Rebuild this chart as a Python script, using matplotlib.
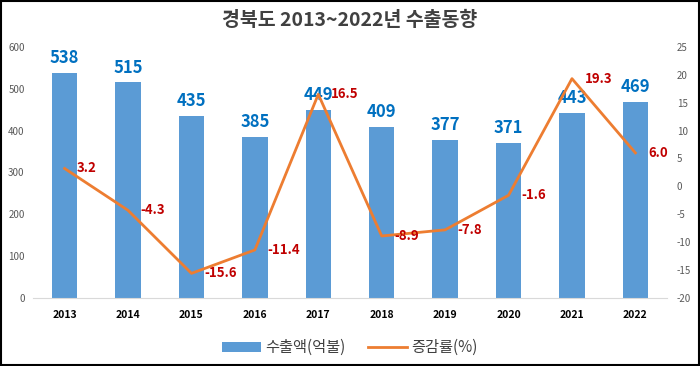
import matplotlib.pyplot as plt
from matplotlib.patches import Rectangle

plt.rcParams['font.family'] = ['Noto Sans CJK KR', 'DejaVu Sans']
plt.rcParams['axes.unicode_minus'] = False

years = ['2013', '2014', '2015', '2016', '2017', '2018', '2019', '2020', '2021', '2022']
exports = [538, 515, 435, 385, 449, 409, 377, 371, 443, 469]
growth = [3.2, -4.3, -15.6, -11.4, 16.5, -8.9, -7.8, -1.6, 19.3, 6.0]

fig = plt.figure(figsize=(7, 3.66), dpi=100)
ax = fig.add_axes([0.047, 0.186, 0.906, 0.686])
x = range(len(years))

ax.bar(x, exports, width=0.4, color='#5B9BD5', label='수출액(억불)', zorder=1)
for i, v in enumerate(exports):
    ax.text(i, v + 14, str(v), ha='center', va='bottom', color='#0070C0',
            fontsize=12, fontweight='bold', zorder=5)

ax.set_ylim(0, 600)
ax.set_xlim(-0.5, len(years) - 0.5)
ax.set_yticks(range(0, 601, 100))
ax.set_xticks(list(x))
ax.set_xticklabels(years, fontsize=7.5, fontweight='bold', color='black')
ax.tick_params(axis='y', labelsize=7, colors='#595959', length=0, pad=6)
ax.tick_params(axis='x', length=0, pad=9)
for s in ['top', 'right', 'left']:
    ax.spines[s].set_visible(False)
ax.spines['bottom'].set_color('#D9D9D9')

ax2 = ax.twinx()
ax2.plot(x, growth, color='#ED7D31', linewidth=2, label='증감률(%)', zorder=3)
for i, v in enumerate(growth):
    ax2.annotate(f'{v:.1f}', (i, v), xytext=(9, 0), textcoords='offset points',
                 ha='left', va='center', color='#C00000', fontsize=9.5, fontweight='bold')
ax2.set_ylim(-20, 25)
ax2.set_yticks(range(-20, 26, 5))
ax2.tick_params(axis='y', labelsize=7, colors='#595959', length=0, pad=7)
for s in ax2.spines.values():
    s.set_visible(False)

fig.text(0.5, 0.945, '경북도 2013~2022년 수출동향', ha='center', va='center',
         fontsize=14, fontweight='bold', color='#404040')

h1, l1 = ax.get_legend_handles_labels()
h2, l2 = ax2.get_legend_handles_labels()
fig.legend(h1 + h2, l1 + l2, loc='center', bbox_to_anchor=(0.5, 0.05), ncol=2,
           frameon=False, fontsize=11, handlelength=2.5, handletextpad=0.3,
           columnspacing=1.5, labelcolor='#404040')

fig.add_artist(Rectangle((0.002, 0.003), 0.996, 0.994, transform=fig.transFigure,
                         fill=False, edgecolor='black', linewidth=1.5))

plt.savefig('out.png')
